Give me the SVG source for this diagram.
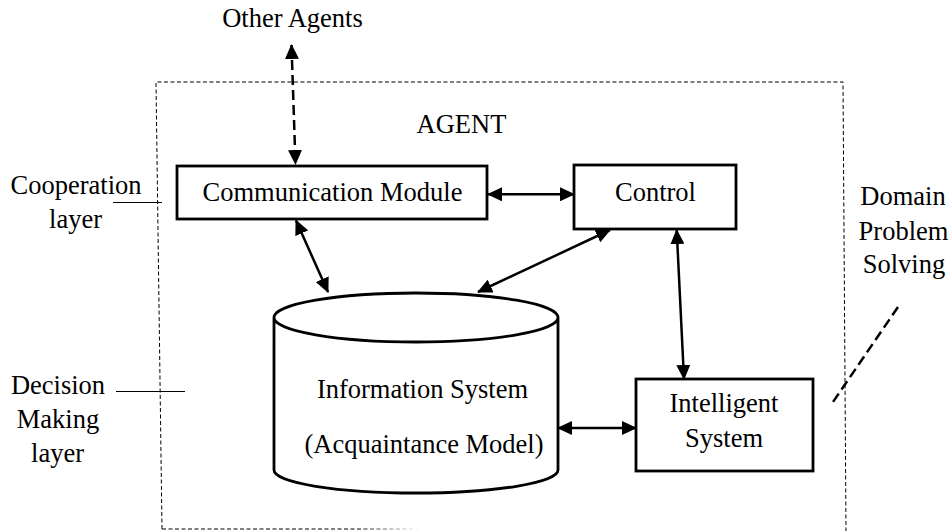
<svg xmlns="http://www.w3.org/2000/svg" width="950" height="531" viewBox="0 0 950 531">
<defs>
<style>
text{font-family:"Liberation Serif","Times New Roman",serif;font-size:26.5px;fill:#000;text-anchor:middle}
.box{fill:#fff;stroke:#000;stroke-width:2.8}
.conn{fill:none;stroke:#000;stroke-width:2.5}
.dash{fill:none;stroke:#000;stroke-width:2.5;stroke-dasharray:10 5}
.thin{fill:none;stroke:#000;stroke-width:1}
.border{fill:none;stroke:#000;stroke-width:1;stroke-dasharray:4 2.5}
</style>
<marker id="ah" markerUnits="userSpaceOnUse" markerWidth="15" markerHeight="14" refX="14" refY="7" orient="auto-start-reverse" viewBox="0 0 15 14">
<path d="M0,0 L15,7 L0,14 z" fill="#000"/>
</marker>
<linearGradient id="fade" x1="162" y1="0" x2="420" y2="0" gradientUnits="userSpaceOnUse">
<stop offset="0" stop-color="#000"/>
<stop offset="0.75" stop-color="#000"/>
<stop offset="1" stop-color="#000" stop-opacity="0"/>
</linearGradient>
</defs>
<rect width="950" height="531" fill="#fff"/>

<g id="boundary">
<polyline class="border" points="162,529 156,82 843,82 846,531"/>
<line x1="162" y1="529" x2="420" y2="529" stroke="url(#fade)" stroke-width="1" stroke-dasharray="4 2.5"/>
</g>

<g id="labels">
<text x="292.5" y="27">Other Agents</text>
<text x="461.5" y="133">AGENT</text>
<text x="76" y="194">Cooperation</text>
<text x="75.5" y="228">layer</text>
<line class="thin" x1="113" y1="202.5" x2="162" y2="202.5"/>
<text x="58" y="394">Decision</text>
<text x="58" y="428">Making</text>
<text x="57.5" y="462">layer</text>
<line class="thin" x1="116" y1="391.5" x2="185" y2="391.5"/>
<text x="903" y="205">Domain</text>
<text x="903.5" y="240">Problem</text>
<text x="904" y="273">Solving</text>
<line class="dash" x1="898" y1="307" x2="833" y2="402" stroke-dasharray="10 6"/>
</g>

<g id="comm">
<rect class="box" x="177" y="166" width="310" height="53"/>
<text x="332.5" y="201">Communication Module</text>
</g>

<g id="control">
<rect class="box" x="574" y="165" width="162" height="64"/>
<text x="655.5" y="201">Control</text>
</g>

<g id="info">
<path class="box" d="M274,317.5 L274,470 A142,23 0 0 0 558,470 L558,317.5 A142,24.5 0 0 0 274,317.5 A142,24.5 0 0 0 558,317.5"/>
<text x="422.5" y="398">Information System</text>
<text x="424" y="453">(Acquaintance Model)</text>
</g>

<g id="intelligent">
<rect class="box" x="636" y="379" width="177" height="92"/>
<text x="724" y="412">Intelligent</text>
<text x="724" y="447">System</text>
</g>

<g id="connectors">
<line class="dash" x1="291.5" y1="45" x2="295.5" y2="164" marker-start="url(#ah)" marker-end="url(#ah)"/>
<line class="conn" x1="488" y1="194.3" x2="574" y2="194.3" marker-start="url(#ah)" marker-end="url(#ah)"/>
<line class="conn" x1="296" y1="220.5" x2="328" y2="292" marker-start="url(#ah)" marker-end="url(#ah)"/>
<line class="conn" x1="610" y1="230" x2="478" y2="292" marker-start="url(#ah)" marker-end="url(#ah)"/>
<line class="conn" x1="676.7" y1="230" x2="684" y2="379" marker-start="url(#ah)" marker-end="url(#ah)"/>
<line class="conn" x1="558" y1="428" x2="636" y2="428" marker-start="url(#ah)" marker-end="url(#ah)"/>
</g>
</svg>
